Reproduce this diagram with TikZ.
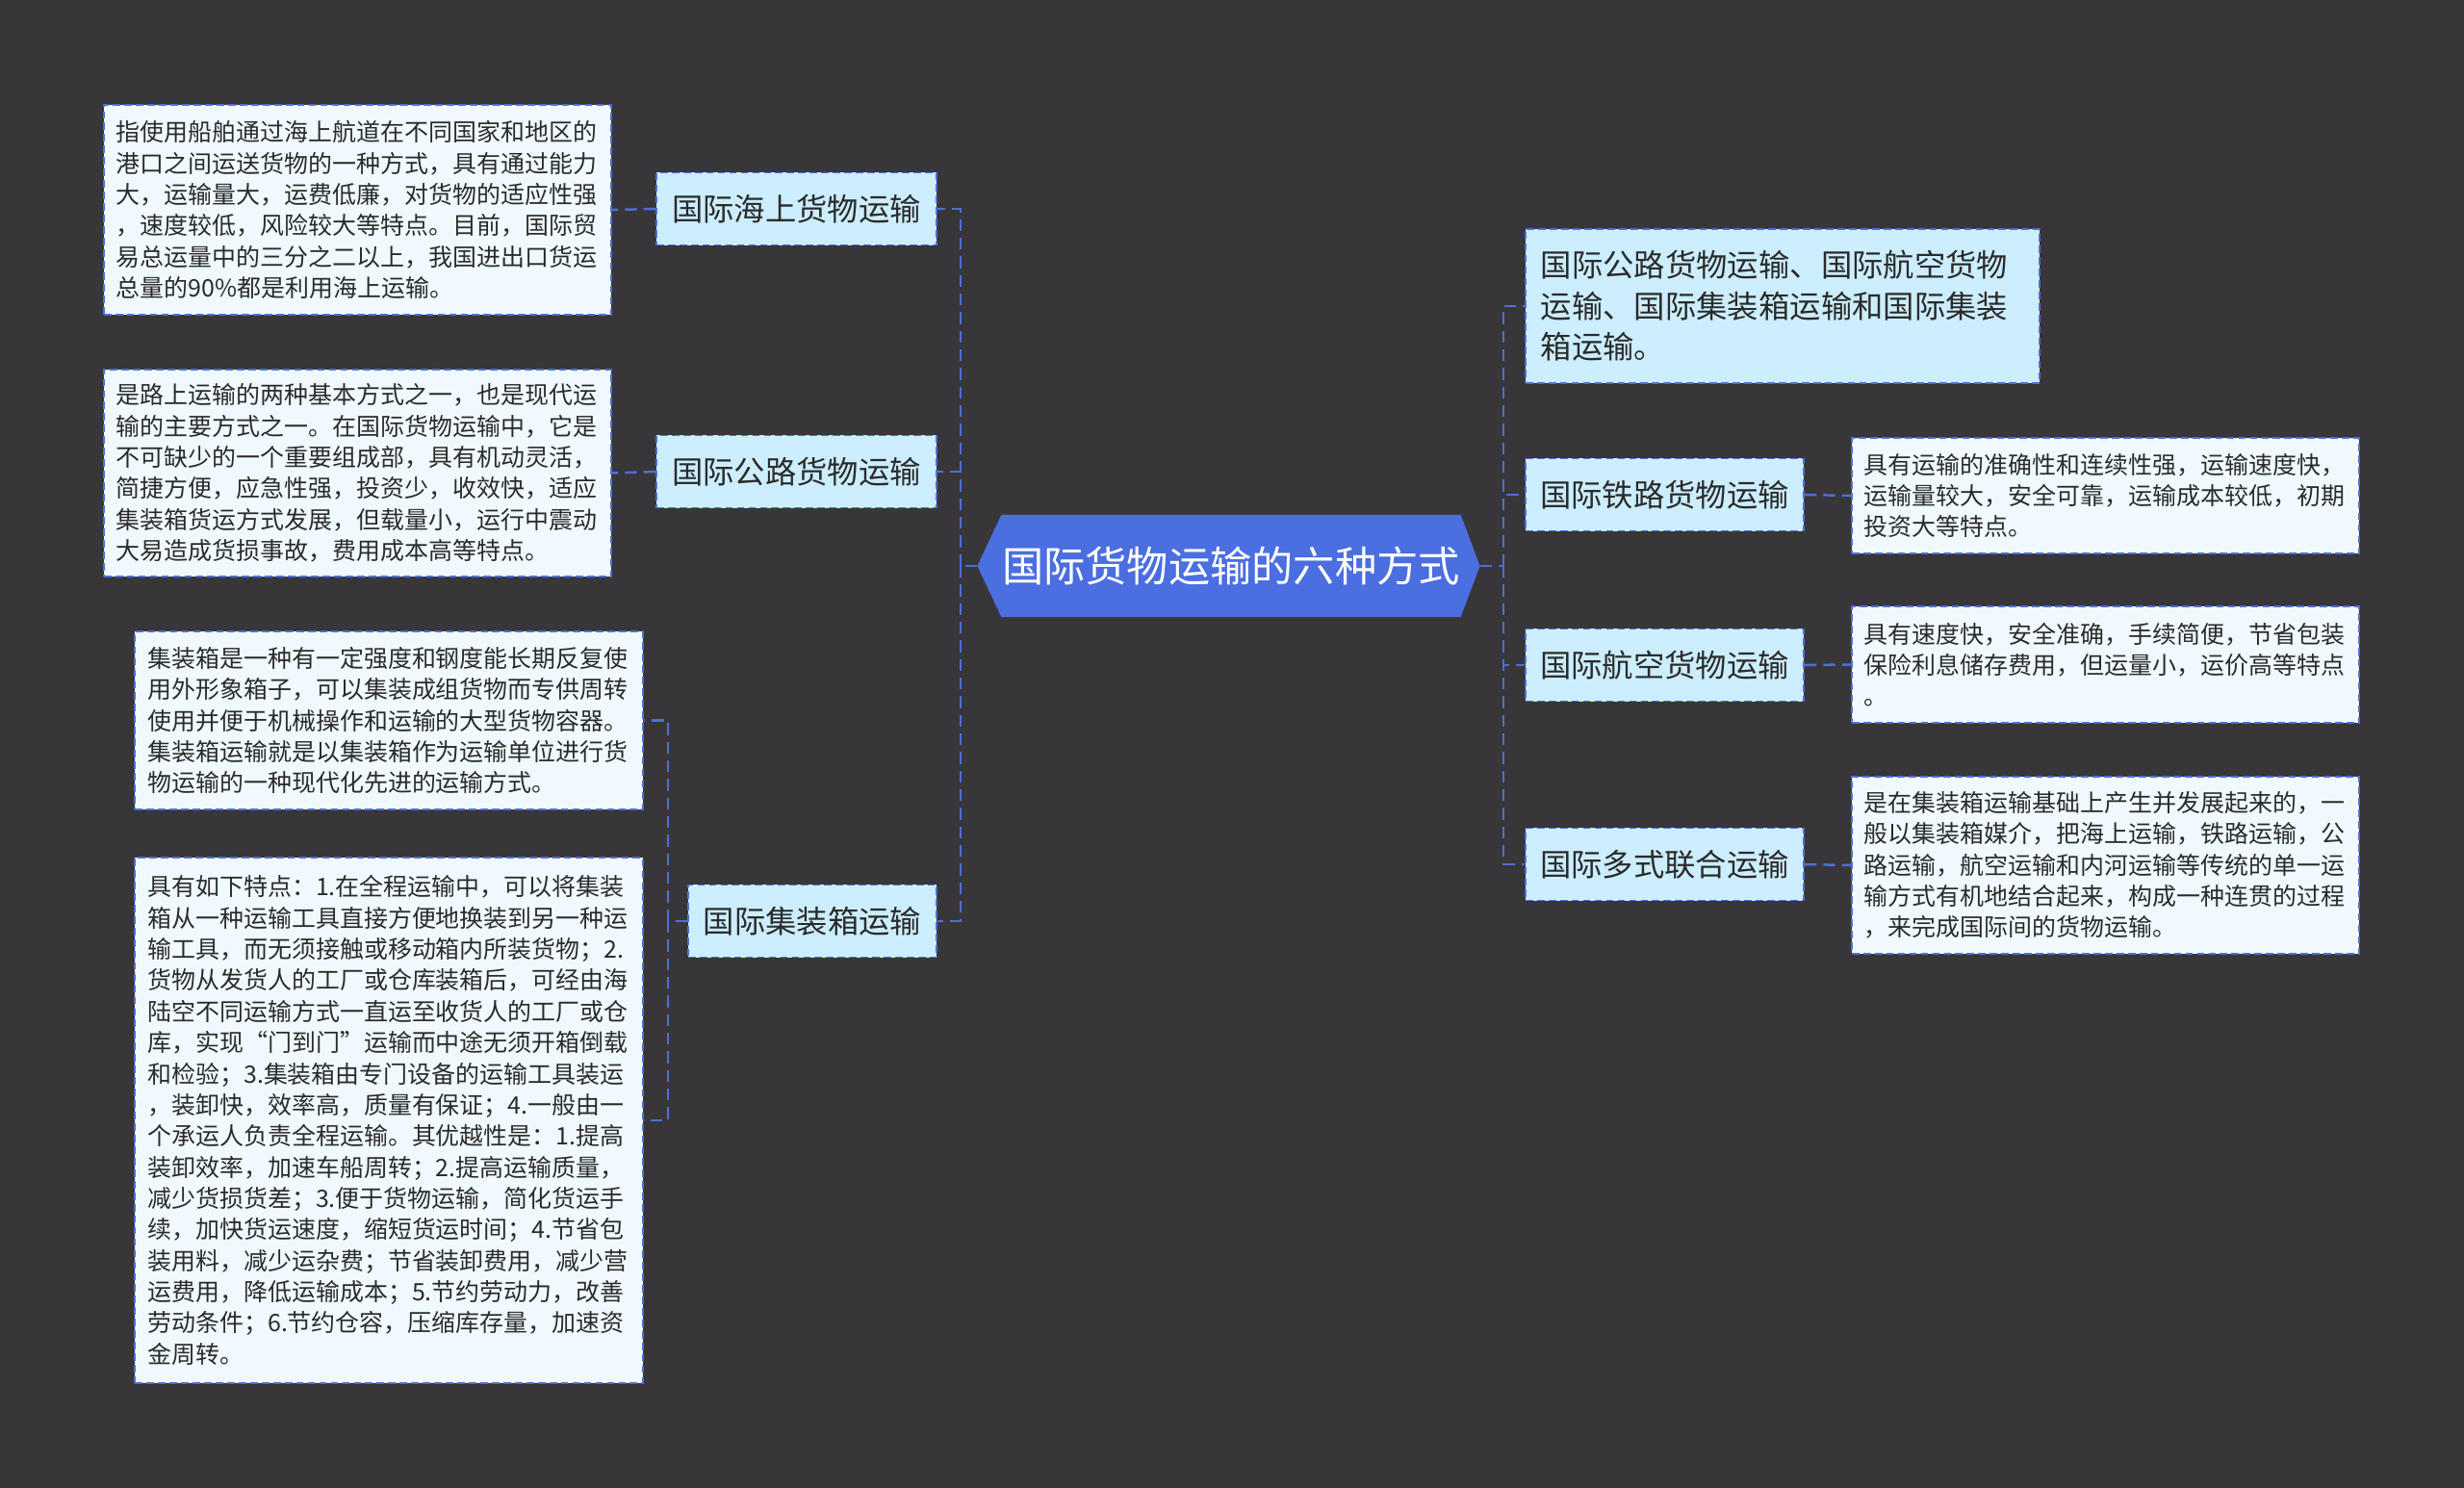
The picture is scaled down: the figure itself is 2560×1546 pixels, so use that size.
\documentclass[tikz,border=0pt]{standalone}
\usepackage{fontspec}
\setmainfont{Noto Sans CJK SC}
\usetikzlibrary{backgrounds}
\definecolor{bgdark}{HTML}{383638}
\definecolor{hubblue}{HTML}{4B6EE0}
\definecolor{edgeblue}{HTML}{4D6FD8}
\definecolor{topicfill}{HTML}{CCEEFE}
\definecolor{notefill}{HTML}{F0FAFE}
\definecolor{inkgray}{HTML}{2B2B2B}

\begin{document}
\begin{tikzpicture}[x=0.01cm,y=-0.01cm,
  link/.style={edgeblue, line width=0.7pt, dash pattern=on 3.5pt off 2pt},
  topic/.style={draw=edgeblue, fill=topicfill, line width=0.55pt, dash pattern=on 2.2pt off 1.2pt,
    text=inkgray, font=\fontsize{9.2}{12.1}\selectfont, minimum height=0.75cm, inner sep=0pt},
  note/.style={draw=edgeblue, fill=notefill, line width=0.55pt, dash pattern=on 2.2pt off 1.2pt,
    text=inkgray, font=\fontsize{7.1}{9.2}\selectfont, align=left, text width=5.01cm,
    inner xsep=0.13cm, inner ysep=0pt},
]
\useasboundingbox (0,0) rectangle (2560,1546);

\node (hub) [text=white, font=\fontsize{12.3}{15}\selectfont, minimum width=4.73cm,
  minimum height=1.05cm, inner sep=0pt] at (1279,588) {国际货物运输的六种方式};
\coordinate (hubl) at ([xshift=-0.25cm]hub.west);
\coordinate (hubr) at ([xshift=0.2cm]hub.east);
\begin{scope}[on background layer]
\fill[bgdark] (0,0) rectangle (2560,1546);
\fill[hubblue] (hub.north west) -- (hub.north east) -- (hubr) -- (hub.south east)
  -- (hub.south west) -- (hubl) -- cycle;
\end{scope}

% left side
\node (sea) [topic, minimum width=2.91cm] at (827.5,217) {国际海上货物运输};
\node (road) [topic, minimum width=2.91cm] at (827.5,490) {国际公路货物运输};
\node (ctn) [topic, minimum width=2.58cm] at (844,957) {国际集装箱运输};

\node (seanote) [note, minimum height=2.18cm] at (371.5,218) {指使用船舶通过海上航道在不同国家和地区的\\
港口之间运送货物的一种方式，具有通过能力\\
大，运输量大，运费低廉，对货物的适应性强\\
，速度较低，风险较大等特点。目前，国际贸\\
易总运量中的三分之二以上，我国进出口货运\\
总量的90\%都是利用海上运输。};
\node (roadnote) [note, minimum height=2.15cm] at (371.5,491.5) {是路上运输的两种基本方式之一，也是现代运\\
输的主要方式之一。在国际货物运输中，它是\\
不可缺少的一个重要组成部，具有机动灵活，\\
简捷方便，应急性强，投资少，收效快，适应\\
集装箱货运方式发展，但载量小，运行中震动\\
大易造成货损事故，费用成本高等特点。};
\node (ctnnote) [note, minimum height=1.85cm] at (404,748.5) {集装箱是一种有一定强度和钢度能长期反复使\\
用外形象箱子，可以集装成组货物而专供周转\\
使用并便于机械操作和运输的大型货物容器。\\
集装箱运输就是以集装箱作为运输单位进行货\\
物运输的一种现代化先进的运输方式。};
\node (ctnlong) [note, minimum height=5.46cm] at (404,1164) {具有如下特点：1.在全程运输中，可以将集装\\
箱从一种运输工具直接方便地换装到另一种运\\
输工具，而无须接触或移动箱内所装货物；2.\\
货物从发货人的工厂或仓库装箱后，可经由海\\
陆空不同运输方式一直运至收货人的工厂或仓\\
库，实现“门到门”运输而中途无须开箱倒载\\
和检验；3.集装箱由专门设备的运输工具装运\\
，装卸快，效率高，质量有保证；4.一般由一\\
个承运人负责全程运输。其优越性是：1.提高\\
装卸效率，加速车船周转；2.提高运输质量，\\
减少货损货差；3.便于货物运输，简化货运手\\
续，加快货运速度，缩短货运时间；4.节省包\\
装用料，减少运杂费；节省装卸费用，减少营\\
运费用，降低运输成本；5.节约劳动力，改善\\
劳动条件；6.节约仓容，压缩库存量，加速资\\
金周转。};

% right side
\node (kinds) [topic, align=left, text width=5.02cm, inner xsep=0.16cm, minimum height=1.6cm]
  at (1852,318) {国际公路货物运输、国际航空货物\\运输、国际集装箱运输和国际集装\\箱运输。};
\node (rail) [topic, minimum width=2.89cm] at (1729.5,514) {国际铁路货物运输};
\node (air) [topic, minimum width=2.89cm] at (1729.5,691) {国际航空货物运输};
\node (multi) [topic, minimum width=2.89cm] at (1729.5,898) {国际多式联合运输};

\node (railnote) [note, minimum height=1.2cm] at (2187.5,515) {具有运输的准确性和连续性强，运输速度快，\\
运输量较大，安全可靠，运输成本较低，初期\\
投资大等特点。};
\node (airnote) [note, minimum height=1.21cm] at (2187.5,690.5) {具有速度快，安全准确，手续简便，节省包装\\
保险利息储存费用，但运量小，运价高等特点\\
。};
\node (multinote) [note, minimum height=1.84cm] at (2187.5,899) {是在集装箱运输基础上产生并发展起来的，一\\
般以集装箱媒介，把海上运输，铁路运输，公\\
路运输，航空运输和内河运输等传统的单一运\\
输方式有机地结合起来，构成一种连贯的过程\\
，来完成国际间的货物运输。};

% connectors
\coordinate (lj) at (998,588);
\coordinate (rj) at (1562,588);
\coordinate (cj) at (694,957);
\draw[link] (hubl) -- (lj);
\draw[link] (lj) |- (sea.east);
\draw[link] (lj) |- (road.east);
\draw[link] (lj) |- (ctn.east);
\draw[link] (hubr) -- (rj);
\draw[link] (rj) |- (kinds.west);
\draw[link] (rj) |- (rail.west);
\draw[link] (rj) |- (air.west);
\draw[link] (rj) |- (multi.west);
\draw[link] (sea.west) -- (seanote.east);
\draw[link] (road.west) -- (roadnote.east);
\draw[link] (ctn.west) -- (cj);
\draw[link] (cj) |- (ctnnote.east);
\draw[link] (cj) |- (ctnlong.east);
\draw[link] (rail.east) -- (railnote.west);
\draw[link] (air.east) -- (airnote.west);
\draw[link] (multi.east) -- (multinote.west);
\end{tikzpicture}
\end{document}
